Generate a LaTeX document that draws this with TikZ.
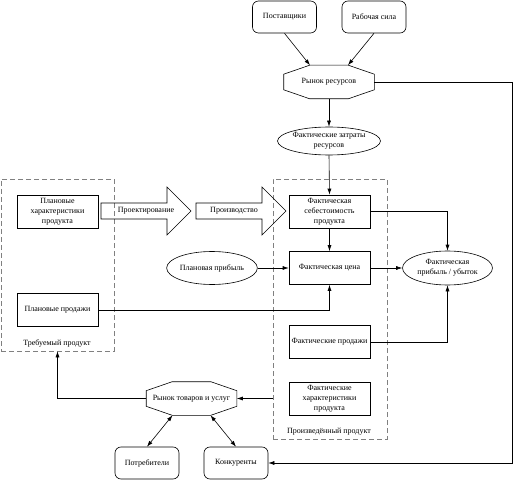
\documentclass[tikz,border=0pt]{standalone}
\usepackage{fontspec}
\setmainfont{Liberation Serif}
\usetikzlibrary{shapes.geometric,arrows.meta}
\newcommand{\octframe}[1]{%
\draw ([xshift=26]#1.north west) -- ([xshift=-26]#1.north east) -- ([yshift=-9]#1.north east)
  -- ([yshift=9]#1.south east) -- ([xshift=-26]#1.south east) -- ([xshift=26]#1.south west)
  -- ([yshift=9]#1.south west) -- ([yshift=-9]#1.north west) -- cycle;}
\newcommand{\flowarrow}[4]{%
\draw (#1,203) -- ({#1+66},203) -- ({#1+66},187) -- ({#1+90},211) -- ({#1+66},235)
  -- ({#1+66},219) -- (#1,219) -- cycle;
\node[txt] (#2) at ({#1+#3},211) {#4};}
\begin{document}
\begin{tikzpicture}[x=1pt, y=-1pt, line width=0.6pt, font=\fontsize{8}{10}\selectfont]
\tikzset{box/.style={draw, align=center, minimum width=81, minimum height=33, inner sep=1pt},
  rbox/.style={draw, rounded corners=6pt, align=center, minimum width=64, minimum height=32, inner sep=1pt},
  oval/.style={draw, ellipse, align=center, minimum width=90, minimum height=30, inner sep=0pt},
  octa/.style={align=center, minimum width=90, minimum height=33, inner sep=0pt},
  group/.style={draw=gray, dash pattern=on 5pt off 3pt, minimum width=113, inner sep=0pt},
  txt/.style={inner sep=1pt, align=center},
  arr/.style={-{Latex[length=6pt,width=4pt]}},
  darr/.style={{Latex[length=6pt,width=4pt]}-{Latex[length=6pt,width=4pt]}}}
\useasboundingbox (0,0) rectangle (514,481);
\node[group, minimum height=172] (req) at (57.5,265) {};
\node[group, minimum width=114, minimum height=260] (made) at (330,309) {};
\node[txt] (reqlbl) at (57,343) {Требуемый продукт};
\node[txt] (madelbl) at (329,432) {Произведённый продукт};
\node[rbox] (supp) at (284.5,17) {Поставщики};
\node[rbox] (labor) at (374,17) {Рабочая сила};
\node[octa] (resmkt) at (329,82) {Рынок ресурсов};
\octframe{resmkt}
\node[oval, minimum height=28] (cost) at (329,141) {Фактические затраты\\ресурсов};
\node[box] (planchar) at (57.5,211.5) {Плановые\\характеристики\\продукта};
\node[box] (plansales) at (57.5,310) {Плановые продажи};
\flowarrow{101}{design}{45}{Проектирование}
\flowarrow{196}{produce}{38}{Производство}
\node[box] (actcost) at (329.5,211.5) {Фактическая\\себестоимость\\продукта};
\node[box] (actprice) at (329.5,268) {Фактическая цена};
\node[box] (actsales) at (329.5,342) {Фактические продажи};
\node[box] (actchar) at (329.5,398.5) {Фактические\\характеристики\\продукта};
\node[oval, minimum height=33] (planprofit) at (212,268) {Плановая прибыль};
\node[oval, minimum height=34] (profit) at (447.5,268) {Фактическая\\прибыль / убыток};
\node[octa] (goodsmkt) at (191.5,398.5) {Рынок товаров и услуг};
\octframe{goodsmkt}
\node[rbox] (consumers) at (147,463) {Потребители};
\node[rbox] (competitors) at (236,463) {Конкуренты};
\draw[arr] (supp.south) -- ([xshift=-19]resmkt.north);
\draw[arr] (labor.south) -- ([xshift=19]resmkt.north);
\draw[arr] (resmkt.south) -- (cost.north);
\draw[arr] (resmkt.east) -- ++(138,0) |- (competitors.east);
\draw[arr] (cost.south) -- (actcost.north);
\draw[arr] (actcost.south) -- (actprice.north);
\draw[arr] (planprofit.east) -- (actprice.west);
\draw[arr] (plansales.east) -| (actprice.south);
\draw[arr] (actcost.east) -| (profit.north);
\draw[arr] (actprice.east) -- (profit.west);
\draw[arr] (actsales.east) -| (profit.south);
\draw[arr] (made.west |- goodsmkt.east) -- (goodsmkt.east);
\draw[arr] (goodsmkt.west) -| (req.south);
\draw[darr] ([xshift=-19]goodsmkt.south) -- (consumers.north);
\draw[darr] ([xshift=19]goodsmkt.south) -- (competitors.north);
\end{tikzpicture}
\end{document}
